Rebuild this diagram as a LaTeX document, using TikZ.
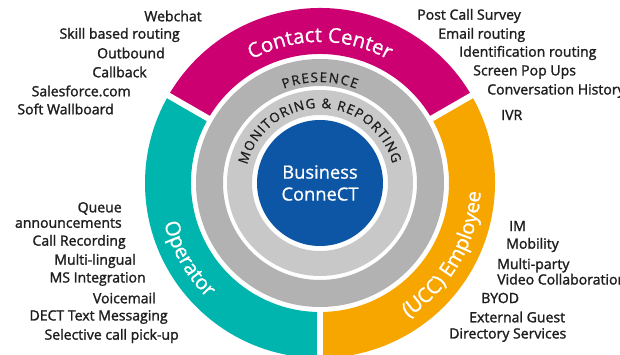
\documentclass[tikz,border=0pt]{standalone}
\usepackage{fontspec}
\setmainfont{Open Sans}
\newfontfamily\lblfont{Open Sans}[FakeBold=1.6]
\newfontfamily\ringfont{Open Sans}[FakeBold=0.9]
\usepackage{tikz}
\usetikzlibrary{decorations.text}

\definecolor{ccmagenta}{RGB}{204,0,112}
\definecolor{opteal}{RGB}{0,181,173}
\definecolor{emporange}{RGB}{247,166,0}
\definecolor{ringdark}{RGB}{178,178,178}
\definecolor{ringlight}{RGB}{200,200,200}
\definecolor{coreblue}{RGB}{12,86,165}
\definecolor{labeltext}{RGB}{30,30,30}

\tikzset{
	featL/.style={anchor=east, inner sep=0pt, text=labeltext, font=\lblfont\fontsize{10}{11}\selectfont},
	featR/.style={featL, anchor=west},
	gapline/.style={white, line width=4.3pt}
}

\begin{document}
\begin{tikzpicture}[x=0.025cm, y=0.025cm]
	\useasboundingbox (-320,-172) rectangle (300,183);

	% Outer ring, three segments
	\fill[ccmagenta] (30:129) arc[start angle=30, end angle=150, radius=129] -- (150:175) arc[start angle=150, end angle=30, radius=175] -- cycle;
	\fill[opteal] (150:129) arc[start angle=150, end angle=270, radius=129] -- (270:175) arc[start angle=270, end angle=150, radius=175] -- cycle;
	\fill[emporange] (270:129) arc[start angle=270, end angle=390, radius=129] -- (30:175) arc[start angle=390, end angle=270, radius=175] -- cycle;
	\draw[gapline] (30:125) -- (30:180);
	\draw[gapline] (150:125) -- (150:180);
	\draw[gapline] (270:125) -- (270:180);

	% Grey rings and the core
	\fill[ringdark, even odd rule] (0,0) circle (124) (0,0) circle (97);
	\fill[ringlight, even odd rule] (0,0) circle (93) (0,0) circle (68);
	\fill[coreblue] (0,0) circle (63);
	\node[align=center, text=white, font=\ringfont\fontsize{13}{15.6}\selectfont] (core) at (0,0) {Business\\ConneCT};

	% Text along the rings
	\path[decorate, decoration={text along path, text color=white, text align=center,
		text={|\ringfont\fontsize{14.5}{16}\selectfont|Contact Center}}]
		(150:141) arc[start angle=150, end angle=30, radius=141];
	\path[decorate, decoration={text along path, text color=white, text align=center,
		text={|\ringfont\fontsize{14.5}{16}\selectfont|Operator}}]
		(150:161) arc[start angle=150, end angle=270, radius=161];
	\path[decorate, decoration={text along path, text color=white, text align=center,
		text={|\ringfont\fontsize{14.5}{16}\selectfont|(UCC) Employee}}]
		(-90:161) arc[start angle=-90, end angle=30, radius=161];
	\path[decorate, decoration={text along path, text color=labeltext, text align={fit to path},
		text={|\ringfont\fontsize{9.5}{11}\selectfont|PRESENCE}}]
		(111:101) arc[start angle=111, end angle=69, radius=101];
	\path[decorate, decoration={text along path, text color=labeltext, text align={fit to path},
		text={|\ringfont\fontsize{9.5}{11}\selectfont|MONITORING {\&} REPORTING}}]
		(166:75) arc[start angle=166, end angle=15, radius=75];

	% Contact Center features
	\node[featL] (webchat) at (-118,167) {Webchat};
	\node[featL] (skill) at (-140,148) {Skill based routing};
	\node[featL] (outbound) at (-155,130) {Outbound};
	\node[featL] (callback) at (-173,111) {Callback};
	\node[featL] (salesforce) at (-189,92) {Salesforce.com};
	\node[featL] (wallboard) at (-206,74) {Soft Wallboard};

	\node[featR] (survey) at (97,167) {Post Call Survey};
	\node[featR] (email) at (118,148) {Email routing};
	\node[featR] (ident) at (139,130) {Identification routing};
	\node[featR] (popups) at (153,111) {Screen Pop Ups};
	\node[featR] (history) at (167,92) {Conversation History};
	\node[featR] (ivr) at (181,68) {IVR};

	% Operator features
	\node[featL, align=right] (queue) at (-198,-32) {Queue\\announcements};
	\node[featL] (recording) at (-194,-59) {Call Recording};
	\node[featL] (lingual) at (-184,-78) {Multi-lingual};
	\node[featL] (msint) at (-174,-96) {MS Integration};
	\node[featL] (voicemail) at (-164,-115) {Voicemail};
	\node[featL] (dect) at (-152,-134) {DECT Text Messaging};
	\node[featL] (pickup) at (-141,-153) {Selective call pick-up};

	% Employee features
	\node[featR] (im) at (189,-43) {IM};
	\node[featR] (mobility) at (186,-62) {Mobility};
	\node[featR, align=left] (video) at (177,-88.5) {Multi-party\\Video Collaboration};
	\node[featR] (byod) at (161,-115) {BYOD};
	\node[featR] (guest) at (149,-134) {External Guest};
	\node[featR] (directory) at (129,-152) {Directory Services};
\end{tikzpicture}
\end{document}
